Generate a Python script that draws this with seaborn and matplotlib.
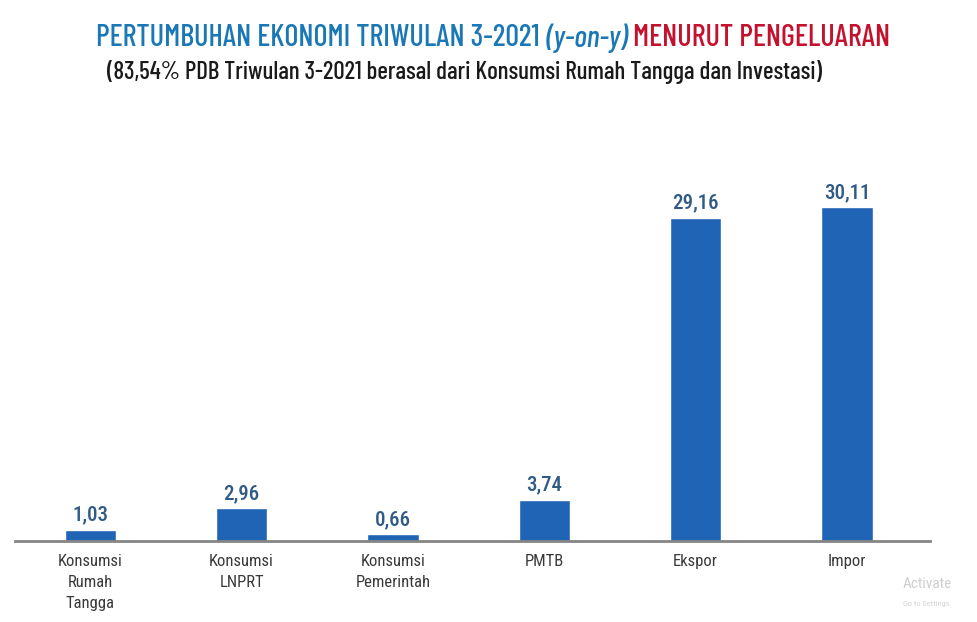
import matplotlib
matplotlib.use('Agg')
import matplotlib.pyplot as plt
import seaborn as sns
import pandas as pd

# Data
categories = ['Konsumsi\nRumah\nTangga', 'Konsumsi\nLNPRT', 'Konsumsi\nPemerintah',
              'PMTB', 'Ekspor', 'Impor']
growth = [1.03, 2.96, 0.66, 3.74, 29.16, 30.11]
value_labels = ['1,03', '2,96', '0,66', '3,74', '29,16', '30,11']

title_parts = ['PERTUMBUHAN EKONOMI TRIWULAN 3-2021 ', '(y-on-y) ', 'MENURUT PENGELUARAN']
subtitle = '(83,54% PDB Triwulan 3-2021 berasal dari Konsumsi Rumah Tangga dan Investasi)'

TITLE_FONT = ['Barlow Condensed', 'Roboto Condensed', 'Liberation Sans', 'DejaVu Sans']


def fit_size(renderer, text, target_px):
    # scale the font so that the text gets the wanted width in pixels
    w = text.get_window_extent(renderer).width
    text.set_fontsize(text.get_fontsize() * target_px / w)


def main():
    sns.set_style('white')
    plt.rcParams['font.family'] = ['Roboto Condensed', 'Liberation Sans', 'DejaVu Sans']

    df = pd.DataFrame({'kategori': categories, 'pertumbuhan': growth})

    fig = plt.figure(figsize=(9.78, 6.22), dpi=100)
    ax = fig.add_axes([0.015, 0.130, 0.936, 0.624])

    sns.barplot(data=df, x='kategori', y='pertumbuhan', color='#1f64b5',
                saturation=1, width=0.34, ax=ax)

    ax.set_ylim(0, 35)
    ax.set_xlim(-0.5, 5.55)
    ax.set_xlabel('')
    ax.set_ylabel('')
    ax.set_yticks([])
    for side in ['top', 'right', 'left']:
        ax.spines[side].set_visible(False)
    ax.spines['bottom'].set_color('#858585')
    ax.spines['bottom'].set_linewidth(2)
    ax.tick_params(axis='x', length=0, pad=9, labelsize=12, labelcolor='#3a3a3a')
    for lab in ax.get_xticklabels():
        lab.set_linespacing(1.5)

    # value labels above the bars
    for i, bar in enumerate(ax.patches):
        ax.annotate(value_labels[i], (bar.get_x() + bar.get_width() / 2, bar.get_height()),
                    xytext=(0, 9), textcoords='offset pixels', ha='center', va='baseline',
                    fontsize=15, fontweight='medium', color='#2f5b86')

    # multi-colour title
    fig.canvas.draw()
    renderer = fig.canvas.get_renderer()
    styles = [('#1a78b6', 'normal'), ('#1a78b6', 'italic'), ('#c5112d', 'normal')]
    texts = []
    for s, (c, st) in zip(title_parts, styles):
        t = fig.text(0, 1 - 38 / 622, s, color=c, style=st, fontsize=18,
                     fontweight='medium', family=TITLE_FONT, va='center', ha='left')
        texts.append(t)
    widths = [t.get_window_extent(renderer).width for t in texts]
    scale = 793 / sum(widths)
    for t in texts:
        t.set_fontsize(18 * scale)
    widths = [t.get_window_extent(renderer).width for t in texts]
    x = 493 - sum(widths) / 2
    for t, w in zip(texts, widths):
        t.set_x(x / fig.bbox.width)
        x += w

    sub = fig.text(465 / 978, 1 - 72 / 622, subtitle, ha='center', va='center',
                   fontsize=14, fontweight='medium', family=TITLE_FONT, color='#1a1a1a')
    fit_size(renderer, sub, 715)

    # screenshot watermark in the lower right corner
    fig.text(903 / 978, 1 - 584 / 622, 'Activate', ha='left', va='center',
             fontsize=11, color='#cfcfcf')
    fig.text(903 / 978, 1 - 604 / 622, 'Go to Settings', ha='left', va='center',
             fontsize=6, color='#d5d5d5')

    fig.savefig('out.png', dpi=100)


if __name__ == '__main__':
    main()
